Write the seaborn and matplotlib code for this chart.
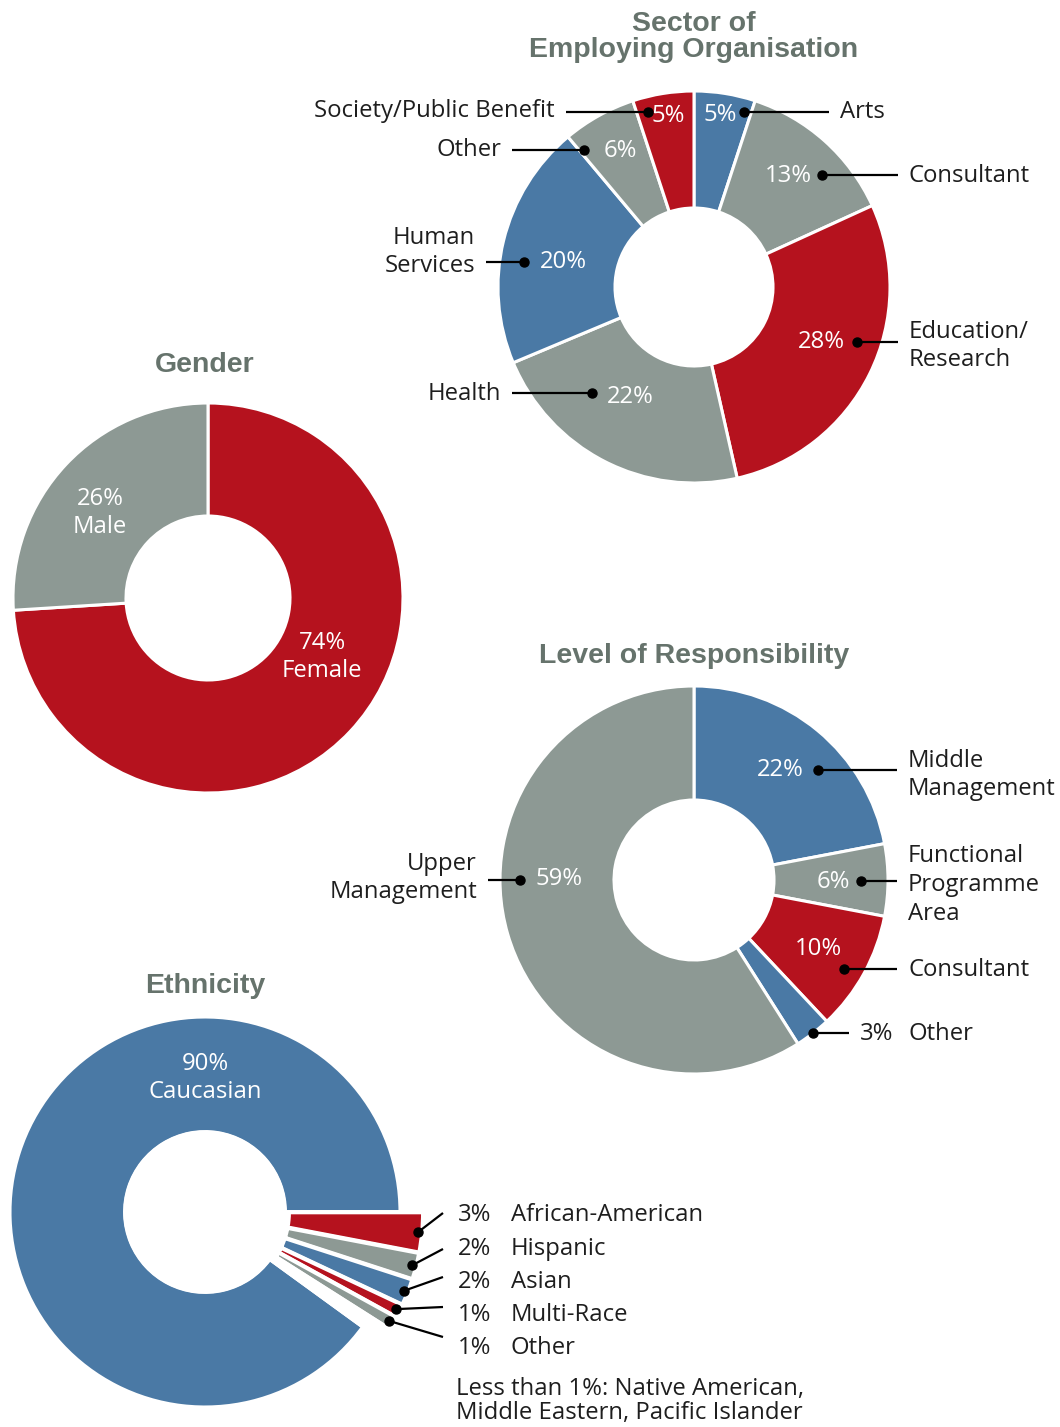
import numpy as np
import matplotlib.pyplot as plt
import seaborn as sns

sns.set_theme(style="white")
plt.rcParams['font.family'] = ['Open Sans', 'DejaVu Sans']

W, H = 1060, 1427
BLUE, GREY, RED = "#4a79a5", "#8d9994", "#b5121e"
TITLE = "#66736c"
INK = "#1e1e1e"

# --- data ---
sector_names = ["Arts", "Consultant", "Education/\nResearch", "Health", "Human\nServices", "Other",
                "Society/Public Benefit"]
sector_pct = [5, 13, 28, 22, 20, 6, 5]
sector_cols = [BLUE, GREY, RED, GREY, BLUE, GREY, RED]

gender_names = ["Female", "Male"]
gender_pct = [74, 26]
gender_cols = [RED, GREY]

level_names = ["Middle\nManagement", "Functional\nProgramme\nArea", "Consultant", "Other", "Upper\nManagement"]
level_pct = [22, 6, 10, 3, 59]
level_cols = [BLUE, GREY, RED, BLUE, GREY]

eth_names = ["African-American", "Hispanic", "Asian", "Multi-Race", "Other", "Less than 1%", "Caucasian"]
eth_pct = [3, 2, 2, 1, 1, 1, 90]
eth_cols = [RED, GREY, BLUE, RED, GREY, "none", BLUE]

# --- layout (image pixel coords, y down) ---
sector_c = (694, 287)
sector_pct_xy = [(720, 115), (788, 176), (821, 342), (630, 397), (563, 262), (620, 151), (668, 116)]
sector_lead_y = [112, 175, 342, 393, 262, 150, 112]
sector_dot_r = [182, 170, 172, 147, 172, 176, 181]
sector_lab_xy = [(840, 112), (909, 176), (909, 346), (501, 394), (475, 252), (501, 150), (555, 111)]

level_c = (694, 880)
level_pct_xy = [(780, 770), (833, 882), (818, 949), (877, 1034), (559, 879)]
level_lead_y = [770, 881, 969, 1033, 880]
level_dot_r = [166, 167, 174, 194, 174]
level_lab_xy = [(908, 775), (908, 885), (908, 970), (908, 1034), (477, 878)]

gender_c = (208, 598)
gender_lab_xy = [(322, 657), (100, 513)]

eth_c = (205, 1212)
eth_text_y = [1215, 1249, 1282, 1315, 1348]
eth_line_y = [1213, 1249, 1277, 1307, 1337]


def Y(y):
    return H - y


fig = plt.figure(figsize=(W / 100, H / 100), dpi=100)
ax = fig.add_axes([0, 0, 1, 1])


def donut(center, r, hole, vals, cols, start=90, lw=2.2, explode=None):
    wedges, _ = ax.pie(vals, colors=cols, startangle=start, counterclock=False,
                       center=(center[0], Y(center[1])), radius=r, explode=explode,
                       wedgeprops=dict(width=r - hole, edgecolor='white', linewidth=lw))
    return wedges


def leader(p0, p1):
    ax.plot([p0[0], p1[0]], [Y(p0[1]), Y(p1[1])], color='black', lw=1.6, solid_capstyle='butt')
    ax.plot(p0[0], Y(p0[1]), 'o', color='black', ms=6.5)


FS = 17.2
TFS = 20.5
TFONT = ['Liberation Sans', 'DejaVu Sans']
LS = 1.25

# --- sector ---
ax.text(sector_c[0], Y(37), "Sector of\nEmploying Organisation", ha='center', va='center',
        fontsize=TFS, fontweight='bold', color=TITLE, linespacing=1.0, family=TFONT)
wedges = donut(sector_c, 196, 79, sector_pct, sector_cols)
for w, name, pct, pxy, ly, dr, lxy in zip(wedges, sector_names, sector_pct, sector_pct_xy,
                                          sector_lead_y, sector_dot_r, sector_lab_xy):
    mid = np.deg2rad((w.theta1 + w.theta2) / 2)
    side = 1 if np.cos(mid) > 0 else -1
    dy = ly - sector_c[1]
    dot = (sector_c[0] + side * np.sqrt(dr ** 2 - dy ** 2), ly)
    end = (lxy[0] - 11 * side, ly)
    leader(dot, end)
    ax.text(pxy[0], Y(pxy[1]), f"{pct}%", ha='center', va='center', fontsize=FS, color='white')
    ax.text(lxy[0], Y(lxy[1]), name, ha='left' if side > 0 else 'right', va='center',
            fontsize=FS, color=INK, linespacing=LS)

# --- gender ---
ax.text(gender_c[0] - 3, Y(365), "Gender", ha='center', va='center', fontsize=TFS,
        fontweight='bold', color=TITLE, family=TFONT)
donut(gender_c, 195, 82, gender_pct, gender_cols)
for name, pct, lxy in zip(gender_names, gender_pct, gender_lab_xy):
    ax.text(lxy[0], Y(lxy[1]), f"{pct}%\n{name}", ha='center', va='center', fontsize=FS,
            color='white', linespacing=LS)

# --- level of responsibility ---
ax.text(level_c[0], Y(656), "Level of Responsibility", ha='center', va='center', fontsize=TFS,
        fontweight='bold', color=TITLE, family=TFONT)
wedges = donut(level_c, 194, 80, level_pct, level_cols)
for w, name, pct, pxy, ly, dr, lxy in zip(wedges, level_names, level_pct, level_pct_xy,
                                          level_lead_y, level_dot_r, level_lab_xy):
    mid = np.deg2rad((w.theta1 + w.theta2) / 2)
    side = 1 if np.cos(mid) > 0 else -1
    dy = ly - level_c[1]
    dot = (level_c[0] + side * np.sqrt(dr ** 2 - dy ** 2), ly)
    if name == "Other":
        leader(dot, (849, ly))
        ax.text(pxy[0], Y(pxy[1]), f"{pct}%", ha='center', va='center', fontsize=FS, color=INK)
    else:
        leader(dot, (lxy[0] - 11 * side, ly))
        ax.text(pxy[0], Y(pxy[1]), f"{pct}%", ha='center', va='center', fontsize=FS, color='white')
    ax.text(lxy[0], Y(lxy[1]), name, ha='left' if side > 0 else 'right', va='center',
            fontsize=FS, color=INK, linespacing=LS)

# --- ethnicity ---
ax.text(eth_c[0], Y(986), "Ethnicity", ha='center', va='center', fontsize=TFS,
        fontweight='bold', color=TITLE, family=TFONT)
main_cols = ["none"] * 6 + [BLUE]
donut(eth_c, 195, 80, eth_pct, main_cols, start=0)
small_cols = eth_cols[:6] + ["none"]
wedges = donut(eth_c, 214, 80, eth_pct, small_cols, start=0, lw=2.8,
               explode=[4, 4, 4, 4, 4, 0, 0])
ax.text(eth_c[0], Y(1078), f"{eth_pct[-1]}%\n{eth_names[-1]}", ha='center', va='center',
        fontsize=FS, color='white', linespacing=LS)
for w, name, pct, ty, ly in zip(wedges[:5], eth_names[:5], eth_pct[:5], eth_text_y, eth_line_y):
    mid = np.deg2rad((w.theta1 + w.theta2) / 2)
    dot = (eth_c[0] + 214 * np.cos(mid), eth_c[1] - 214 * np.sin(mid))
    leader(dot, (443, ly))
    ax.text(491, Y(ty), f"{pct}%", ha='right', va='center', fontsize=FS, color=INK)
    ax.text(511, Y(ty), name, ha='left', va='center', fontsize=FS, color=INK)
ax.text(456, Y(1401), "Less than 1%: Native American,\nMiddle Eastern, Pacific Islander",
        ha='left', va='center', fontsize=FS, color=INK, linespacing=1.0)

ax.set_xlim(0, W)
ax.set_ylim(0, H)
ax.set_aspect('equal')
ax.axis('off')
fig.savefig("out.png", dpi=100)
